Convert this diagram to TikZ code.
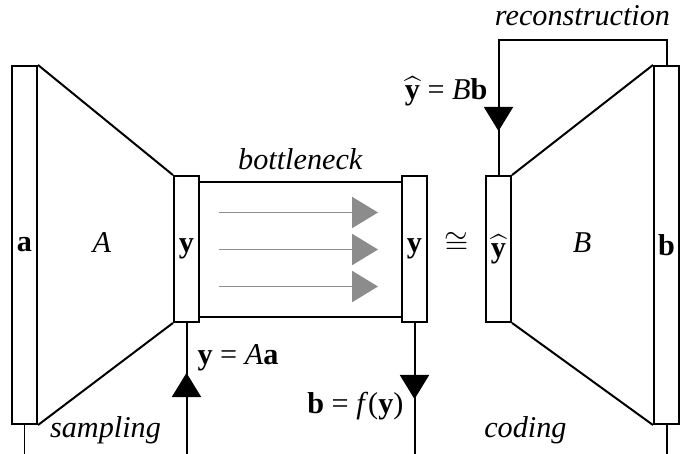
\documentclass[tikz,border=0pt]{standalone}
\usepackage{fontspec}
\setmainfont{LiberationSerif}[Extension=.ttf, UprightFont=*-Regular, BoldFont=*-Bold, ItalicFont=*-Italic, BoldItalicFont=*-BoldItalic]
\usetikzlibrary{arrows.meta,decorations.markings,positioning}
\tikzset{
  bar/.style={draw, fill=white, minimum width=8.3pt, inner sep=0pt},
  longbar/.style={bar, minimum height=118.5pt},
  shortbar/.style={bar, minimum height=48.3pt},
  flow/.style={postaction={decorate}, decoration={markings,
      mark=at position #1 with {\arrow{Triangle[width=9.6pt,length=8pt]}}}},
  passarrow/.style={draw=black!45, line width=.55pt, -{Triangle[width=10.3pt,length=8.6pt]}}
}
\begin{document}
\begin{tikzpicture}[x=.331pt, y=-.331pt, line width=.66pt]
		\useasboundingbox (0,0) rectangle (683,453);
		
		% channel between the two y
		\node[draw, minimum width=67.2pt, minimum height=44.7pt, inner sep=0pt] (neck) at (300.5,249.5) {};
		\node[above=0pt of neck] (neckname) {\textit{bottleneck}};
		\foreach \dy in {-37,0,37}
			\draw[passarrow] (219,{249.5+\dy}) -- (378,{249.5+\dy});
		
		\node[longbar] (bara) at (24.5,245) {\textbf{a}};
		\node[shortbar] (ya) at (186.5,249) {\textbf{y}};
		\node[shortbar] (yb) at (414.5,249) {\textbf{y}};
		\node[shortbar] (yh) at (498.5,249) {$\widehat{\mbox{\textbf{y}}}$};
		\node[longbar] (barb) at (666.5,245) {\textbf{b}};
		
		\draw (bara.north east) -- (ya.north west) (bara.south east) -- (ya.south west);
		\draw (yh.north east) -- (barb.north west) (yh.south east) -- (barb.south west);
		
		\node (opA) at (102,243) {\textit{A}};
		\node (opB) at (582,243) {\textit{B}};
		\node[inner sep=0pt] (iso) at (456.5,243) {$\cong$};
		
		% loops
		\draw[flow=.846] (bara.south) -- ++(0,30)
			-| node[pos=.25, above] (samp) {\textit{sampling}}
			node[pos=.87, right] (yeq) {\textbf{y} = \textit{A}\textbf{a}} (ya.south);
		\draw[flow=.184] (yb.south)
			-- node[pos=.63, left] (beq) {\textbf{b} = \textit{f}(\textbf{y})} ++(0,132)
			-| node[pos=.22, above] (cod) {\textit{coding}} (barb.south);
		\draw[flow=.866] (barb.north) -- ++(0,-25)
			-| node[pos=.25, above=1pt] (rec) {\textit{reconstruction}}
			node[pos=.69, left] (yheq) {$\widehat{\mbox{\textbf{y}}}$ = \textit{B}\textbf{b}} (yh.north);
		\end{tikzpicture}
\end{document}
